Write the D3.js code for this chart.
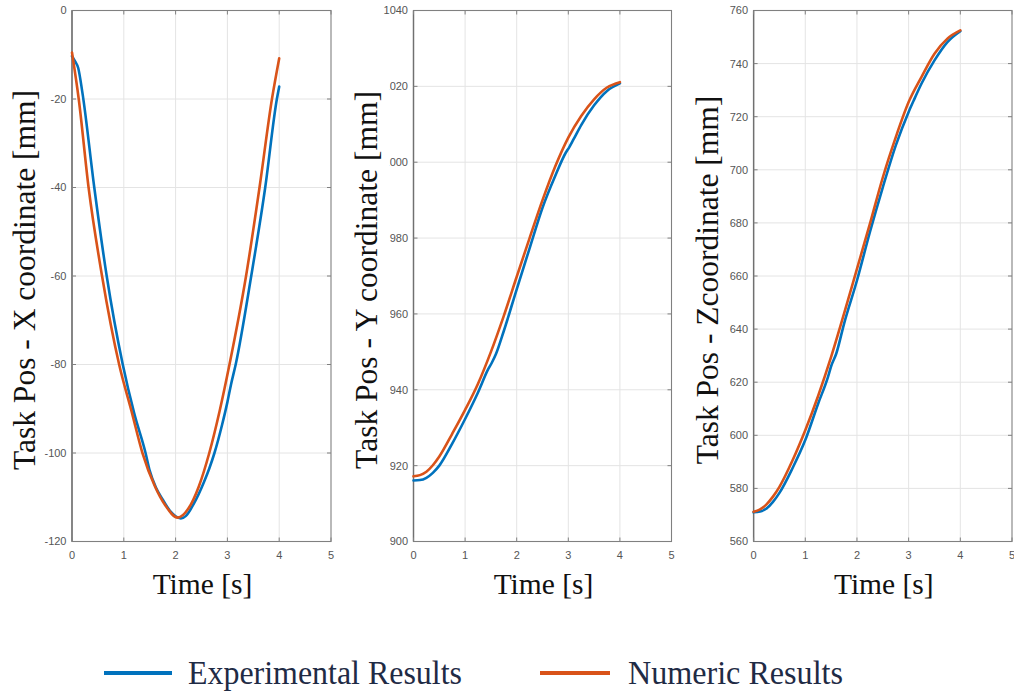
<!DOCTYPE html>
<html>
<head>
<meta charset="utf-8">
<script src="https://cdn.jsdelivr.net/npm/d3@7/dist/d3.min.js"></script>
<style>
  html, body { margin: 0; padding: 0; background: #ffffff; }
  svg { display: block; }
  .serif { font-family: "Liberation Serif", "Times New Roman", Times, "DejaVu Serif", serif; }
  .sans { font-family: "Liberation Sans", Arial, Helvetica, sans-serif; }
</style>
</head>
<body>
<svg id="chart" width="1014" height="694"></svg>
<script>
// ---- Tick values ----
const timeTicks = [0, 1, 2, 3, 4, 5];
const xCoordTicks = [-120, -100, -80, -60, -40, -20, 0];
const yCoordTicks = [900, 920, 940, 960, 980, 1000, 1020, 1040];
const zCoordTicks = [560, 580, 600, 620, 640, 660, 680, 700, 720, 740, 760];

// ---- X coordinate [mm] ----
const xNumT = [0, 0.13, 0.32, 0.58, 0.91, 1.15, 1.36, 1.6, 1.8, 2.04, 2.25, 2.45, 2.65, 2.85, 3.04, 3.36, 3.62, 3.86, 4.0];
const xNumV = [-9.5, -20, -40, -60, -80, -90.6, -100, -107.5, -111.8, -114.6, -112.5, -107.5, -100, -90.5, -80, -60, -40, -20, -10.8];
const xExpT = [0, 0.06, 0.12, 0.2, 0.43, 0.67, 0.98, 1.2, 1.42, 1.5, 1.62, 1.75, 1.9, 2.0, 2.1, 2.2, 2.35, 2.55, 2.65, 2.75, 2.9, 3.0, 3.07, 3.16, 3.46, 3.73, 3.955, 4.0];
const xExpV = [-10.3, -11.5, -13, -18.5, -40, -60, -80, -91, -100, -104, -107.8, -110.5, -113.2, -114.3, -114.8, -114.2, -111.5, -106.5, -103.5, -100, -93.5, -88.5, -84.5, -80, -60, -40, -20, -17.2];

// ---- Y coordinate [mm] ----
const yNumT = [0, 0.125, 0.25, 0.375, 0.5, 0.75, 1.0, 1.25, 1.5, 1.75, 2.0, 2.25, 2.5, 2.75, 3.0, 3.25, 3.5, 3.75, 4.0];
const yNumV = [917.2, 917.5, 918.4, 920.1, 922.4, 928.4, 934.7, 941.6, 950, 959.5, 969.8, 980, 990, 999, 1006.5, 1012.2, 1016.6, 1019.7, 1021.1];
const yExpT = [0, 0.125, 0.25, 0.375, 0.5, 0.75, 1.0, 1.25, 1.45, 1.52, 1.6, 1.75, 2.0, 2.25, 2.5, 2.75, 2.95, 3.02, 3.1, 3.25, 3.5, 3.75, 4.0];
const yExpV = [916.1, 916.2, 916.8, 918.1, 920, 925.8, 932.3, 939.3, 945.5, 947.2, 949.5, 955.5, 966.5, 977.3, 988, 996.5, 1002.5, 1004, 1006, 1009.8, 1015, 1018.8, 1020.8];

// ---- Z coordinate [mm] ----
const zNumT = [0, 0.125, 0.25, 0.375, 0.5, 0.75, 1.0, 1.25, 1.5, 1.75, 2.0, 2.25, 2.5, 2.75, 3.0, 3.25, 3.5, 3.75, 4.0];
const zNumV = [571.2, 572.1, 574, 576.9, 580.6, 590.4, 601.9, 614.9, 629.5, 645.8, 662.7, 679.6, 697.1, 712.2, 725.5, 735, 743.7, 749.4, 752.5];
const zExpT = [0, 0.125, 0.25, 0.375, 0.5, 0.75, 1.0, 1.25, 1.44, 1.5, 1.6, 1.75, 2.0, 2.25, 2.5, 2.75, 3.0, 3.1, 3.25, 3.5, 3.75, 4.0];
const zExpV = [571, 571.3, 572.4, 574.9, 578.3, 587.5, 598.2, 612, 622, 626, 630.8, 642, 658.3, 676.5, 693.4, 709.1, 721.8, 726.2, 732.5, 741.2, 748.1, 752.2];

// ---- Legend ----
const seriesNames = ["Experimental Results", "Numeric Results"];
const seriesColors = ["#0072BD", "#D95319"];

const zip = (ts, vs) => ts.map((t, i) => ({ t: t, v: vs[i] }));

const svg = d3.select("#chart");
const plotTop = 10.5, plotBottom = 541.5;

const panels = [
  { left: 72, right: 331, ticks: xCoordTicks, title: "Task Pos - X coordinate [mm]", titleX: 35,
    exp: zip(xExpT, xExpV), num: zip(xNumT, xNumV), maskPad: 0 },
  { left: 413.5, right: 671.5, ticks: yCoordTicks, title: "Task Pos - Y coordinate [mm]", titleX: 377,
    exp: zip(yExpT, yExpV), num: zip(yNumT, yNumV), maskPad: 5.5 },
  { left: 753.6, right: 1012, ticks: zCoordTicks, title: "Task Pos - Zcoordinate [mm]", titleX: 718,
    exp: zip(zExpT, zExpV), num: zip(zNumT, zNumV), maskPad: 0 }
];

const axisColor = "#808080";
const tickTextColor = "#555555";
const gridColor = "#e4e4e4";

panels.forEach(p => {
  const x = d3.scaleLinear().domain([0, 5]).range([p.left, p.right]);
  const y = d3.scaleLinear().domain(d3.extent(p.ticks)).range([plotBottom, plotTop]);
  const g = svg.append("g");

  // grid
  g.selectAll(".vgrid").data(timeTicks.slice(1, -1)).enter().append("line")
    .attr("x1", d => x(d)).attr("x2", d => x(d))
    .attr("y1", plotTop).attr("y2", plotBottom)
    .attr("stroke", gridColor).attr("stroke-width", 1);
  g.selectAll(".hgrid").data(p.ticks.slice(1, -1)).enter().append("line")
    .attr("x1", p.left).attr("x2", p.right)
    .attr("y1", d => y(d)).attr("y2", d => y(d))
    .attr("stroke", gridColor).attr("stroke-width", 1);

  // box
  g.append("rect")
    .attr("x", p.left).attr("y", plotTop)
    .attr("width", p.right - p.left).attr("height", plotBottom - plotTop)
    .attr("fill", "none").attr("stroke", axisColor).attr("stroke-width", 1.1);
  g.append("line")
    .attr("x1", p.left).attr("x2", p.left).attr("y1", plotTop).attr("y2", plotBottom)
    .attr("stroke", "#707070").attr("stroke-width", 1.4);

  // inward ticks on all four sides
  const tl = 4;
  timeTicks.forEach(d => {
    g.append("line").attr("x1", x(d)).attr("x2", x(d)).attr("y1", plotBottom).attr("y2", plotBottom - tl)
      .attr("stroke", axisColor).attr("stroke-width", 1);
    g.append("line").attr("x1", x(d)).attr("x2", x(d)).attr("y1", plotTop).attr("y2", plotTop + tl)
      .attr("stroke", axisColor).attr("stroke-width", 1);
  });
  p.ticks.forEach(d => {
    g.append("line").attr("x1", p.left).attr("x2", p.left + tl).attr("y1", y(d)).attr("y2", y(d))
      .attr("stroke", axisColor).attr("stroke-width", 1);
    g.append("line").attr("x1", p.right).attr("x2", p.right - tl).attr("y1", y(d)).attr("y2", y(d))
      .attr("stroke", axisColor).attr("stroke-width", 1);
  });

  // tick labels
  g.selectAll(".xt").data(timeTicks).enter().append("text")
    .attr("class", "sans")
    .attr("x", d => x(d)).attr("y", 559)
    .attr("text-anchor", "middle")
    .attr("font-size", 11)
    .attr("fill", tickTextColor)
    .text(d => d);
  g.selectAll(".yt").data(p.ticks).enter().append("text")
    .attr("class", "sans")
    .attr("x", p.left - 5.5).attr("y", d => y(d)).attr("dy", "0.36em")
    .attr("text-anchor", "end")
    .attr("font-size", 11)
    .attr("fill", tickTextColor)
    .text(d => String(d));

  // data lines
  const line = d3.line().x(d => x(d.t)).y(d => y(d.v)).curve(d3.curveMonotoneX);
  g.append("path").datum(p.exp).attr("d", line)
    .attr("fill", "none").attr("stroke", seriesColors[0]).attr("stroke-width", 2.6)
    .attr("stroke-linejoin", "round").attr("stroke-linecap", "round");
  g.append("path").datum(p.num).attr("d", line)
    .attr("fill", "none").attr("stroke", seriesColors[1]).attr("stroke-width", 2.6)
    .attr("stroke-linejoin", "round").attr("stroke-linecap", "round");

  // y-axis title, on a white text box
  const tg = g.append("g");
  const mask = tg.append("rect").attr("fill", "#ffffff");
  const title = tg.append("text")
    .attr("class", "serif")
    .attr("transform", `translate(${p.titleX},280) rotate(-90)`)
    .attr("text-anchor", "middle")
    .attr("font-size", 31.5)
    .attr("fill", "#111111")
    .text(p.title);
  if (p.maskPad > 0) {
    const bb = title.node().getBBox();
    // rotated box: text height runs along x, text length along y
    const w = bb.height, h = bb.width;
    mask.attr("x", p.titleX - 0.78 * w).attr("y", 280 - h / 2 - 10)
      .attr("width", 0.78 * w + (bb.y + bb.height) + p.maskPad)
      .attr("height", h + 20);
  } else {
    mask.remove();
  }

  // x-axis title
  g.append("text")
    .attr("class", "serif")
    .attr("x", (p.left + p.right) / 2 + 1).attr("y", 594)
    .attr("text-anchor", "middle")
    .attr("font-size", 29.5)
    .attr("fill", "#111111")
    .text("Time [s]");
});

// legend
const legend = [
  { x1: 104, x2: 172, tx: 188, tl: 274 },
  { x1: 540, x2: 610, tx: 628, tl: 215 }
];
legend.forEach((l, i) => {
  svg.append("line").attr("x1", l.x1).attr("x2", l.x2).attr("y1", 673).attr("y2", 673)
    .attr("stroke", seriesColors[i]).attr("stroke-width", 4);
  svg.append("text").attr("class", "serif")
    .attr("x", l.tx).attr("y", 684)
    .attr("font-size", 33)
    .attr("textLength", l.tl).attr("lengthAdjust", "spacingAndGlyphs")
    .attr("fill", "#1f2b45")
    .text(seriesNames[i]);
});
</script>
</body>
</html>
